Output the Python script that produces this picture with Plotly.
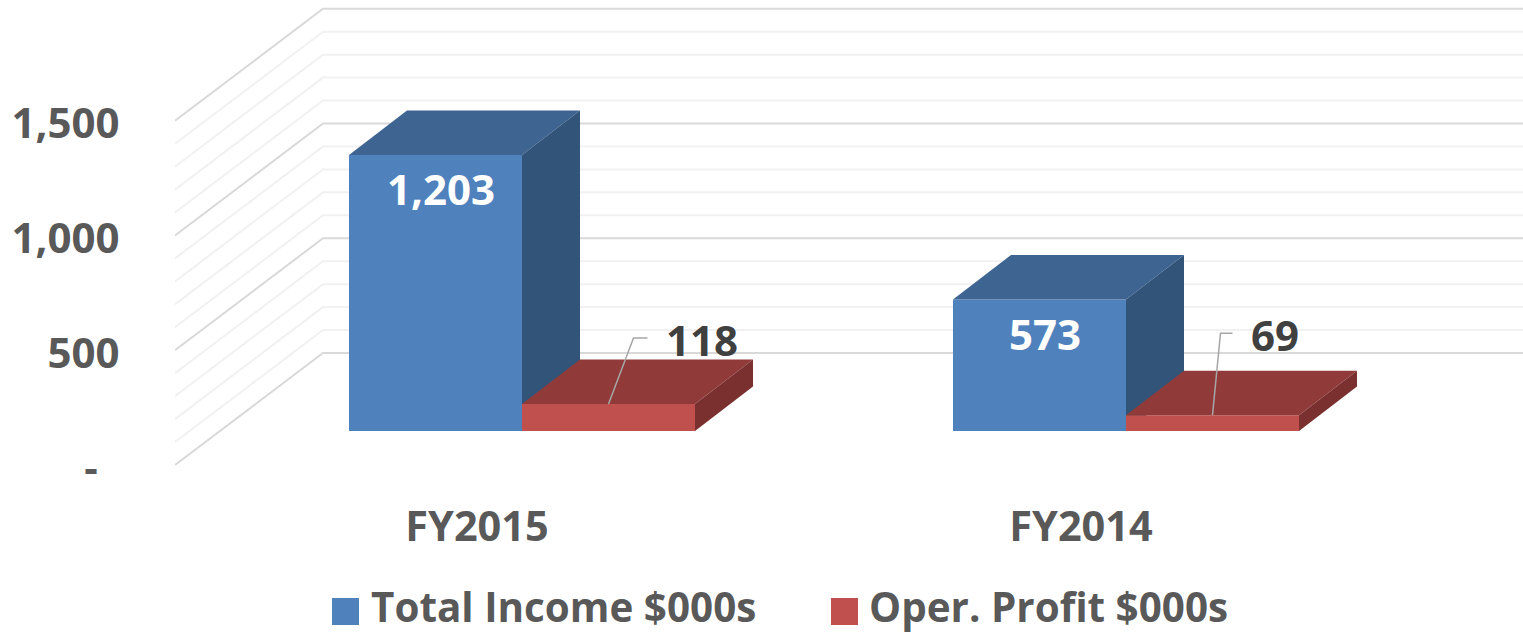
import plotly.graph_objects as go

categories = ["FY2015", "FY2014"]
total_income = [1203, 573]
oper_profit = [118, 69]
series_names = ["Total Income $000s", "Oper. Profit $000s"]
tick_values = [0, 500, 1000, 1500]
tick_labels = ["-\u00a0\u00a0", "500", "1,000", "1,500"]
grid_values = list(range(0, 1600, 100))

W, H = 1523, 634
L, T, B = 175, 6, 470          # plot-area pixel edges
CAT_PX = 604.0                 # pixels per category
VAL_PX = 0.2295                # pixels per value unit
px = lambda p: p / CAT_PX      # pixel -> x units
pv = lambda p: p / VAL_PX      # pixel -> y units

X0 = 0.5
X1 = X0 + px(W - L)
Y_AT_ZERO = 465
Y0 = -pv(B - Y_AT_ZERO)
Y1 = pv(Y_AT_ZERO - T)

WALL_DX, WALL_DY = px(148), pv(112)
SHIFT_X, SHIFT_Y = px(45), pv(34)
DEPTH_X, DEPTH_Y = px(58), pv(44.5)
BAR_W = px(173)

BLUE = ("#4F81BD", "#3E6491", "#325479")
RED = ("#C0504D", "#903B39", "#7A302E")
TEXT = "#595959"
FONT = "Open Sans"

fig = go.Figure()

# Oblique wall + back grid
for vals, color, nm in (
    ([v for v in grid_values if v % 500], "#F1F1F1", "minor"),
    ([v for v in grid_values if v % 500 == 0], "#D9D9D9", "major"),
):
    xs, ys = [], []
    for v in vals:
        xs += [X0, X0 + WALL_DX, X1, None]
        ys += [v, v + WALL_DY, v + WALL_DY, None]
    fig.add_trace(go.Scatter(x=xs, y=ys, mode="lines", name=nm, showlegend=False,
                             hoverinfo="skip", line=dict(color=color, width=2),
                             xaxis="x", yaxis="y"))


def add_series(values, offset, colors, name, ax):
    xa, ya = ("x" + ax, "y" + ax)
    centres = [i + 1 + SHIFT_X + offset for i in range(len(values))]
    fig.add_trace(go.Bar(x=centres, y=values, base=[SHIFT_Y] * len(values), width=BAR_W,
                         name=name, showlegend=False,
                         marker=dict(color=colors[0], line=dict(width=0)), xaxis=xa, yaxis=ya))
    for c, v in zip(centres, values):
        l, r = c - BAR_W / 2, c + BAR_W / 2
        top = SHIFT_Y + v
        fig.add_trace(go.Scatter(
            x=[l, r, r + DEPTH_X, l + DEPTH_X, l], y=[top, top, top + DEPTH_Y, top + DEPTH_Y, top],
            fill="toself", fillcolor=colors[1], mode="lines", line=dict(width=0),
            hoverinfo="skip", showlegend=False, xaxis=xa, yaxis=ya))
        fig.add_trace(go.Scatter(
            x=[r, r + DEPTH_X, r + DEPTH_X, r, r],
            y=[top, top + DEPTH_Y, SHIFT_Y + DEPTH_Y, SHIFT_Y, top],
            fill="toself", fillcolor=colors[2], mode="lines", line=dict(width=0),
            hoverinfo="skip", showlegend=False, xaxis=xa, yaxis=ya))
    return centres


blue_c = add_series(total_income, -BAR_W / 2, BLUE, series_names[0], "2")
red_c = add_series(oper_profit, BAR_W / 2, RED, series_names[1], "3")

annotations = []
# value labels inside the blue bars
for c, v in zip(blue_c, total_income):
    annotations.append(dict(x=c, y=SHIFT_Y + v, xref="x", yref="y", text=f"{v:,}", showarrow=False,
                            xshift=5, yshift=-34, xanchor="center", yanchor="middle",
                            font=dict(family=FONT, size=42, color="white", weight="bold")))
# value labels + leader lines for the red bars
leaders = [((25, 66), (39, 66), (93, 64)), ((8, 82), (20, 82), (62, 81))]
for c, v, (a, b, t) in zip(red_c, oper_profit, leaders):
    top = SHIFT_Y + v
    fig.add_trace(go.Scatter(x=[c, c + px(a[0]), c + px(b[0])],
                             y=[top, top + pv(a[1]), top + pv(b[1])],
                             mode="lines", line=dict(color="#A6A6A6", width=1.5),
                             hoverinfo="skip", showlegend=False, xaxis="x3", yaxis="y3"))
    annotations.append(dict(x=c, y=top, xref="x", yref="y", text=f"{v:,}", showarrow=False,
                            xshift=t[0], yshift=t[1], xanchor="center", yanchor="middle",
                            font=dict(family=FONT, size=42, color="#404040", weight="bold")))

# Legend row
shapes = []
for (x_a, x_b, col) in ((332, 359, BLUE[0]), (831, 858, RED[0])):
    shapes.append(dict(type="rect", xref="paper", yref="paper", line=dict(width=0), fillcolor=col,
                       x0=(x_a - L) / (W - L), x1=(x_b - L) / (W - L),
                       y0=(B - 625) / (B - T), y1=(B - 598) / (B - T)))
for x_t, name in ((369, series_names[0]), (867, series_names[1])):
    annotations.append(dict(x=(x_t - L) / (W - L), y=(B - 606.5) / (B - T), xref="paper", yref="paper",
                            text=name, showarrow=False, xanchor="left", yanchor="middle",
                            font=dict(family=FONT, size=40.4, color=TEXT, weight="bold")))

hidden = dict(visible=False)
fig.update_layout(
    width=W, height=H, margin=dict(l=L, r=0, t=T, b=H - B, pad=0),
    paper_bgcolor="white", plot_bgcolor="white", barmode="overlay", showlegend=False,
    xaxis=dict(range=[X0, X1], tickvals=[1, 2], ticktext=categories, showgrid=False, zeroline=False,
               showline=False, ticks="outside", ticklen=20, tickcolor="rgba(0,0,0,0)",
               tickfont=dict(family=FONT, size=41.5, color=TEXT, weight="bold")),
    yaxis=dict(range=[Y0, Y1], tickvals=tick_values, ticktext=tick_labels, showgrid=False, zeroline=False,
               showline=False, ticks="outside", ticklen=46, tickcolor="rgba(0,0,0,0)",
               ticklabelshift=3,
               tickfont=dict(family=FONT, size=42, color=TEXT, weight="bold")),
    xaxis2=dict(overlaying="x", matches="x", **hidden),
    yaxis2=dict(overlaying="y", matches="y", **hidden),
    xaxis3=dict(overlaying="x", matches="x", **hidden),
    yaxis3=dict(overlaying="y", matches="y", **hidden),
    annotations=annotations, shapes=shapes,
)

fig.write_html("out.html", config=dict(displayModeBar=False),
               post_script="document.body.style.margin='0';")
